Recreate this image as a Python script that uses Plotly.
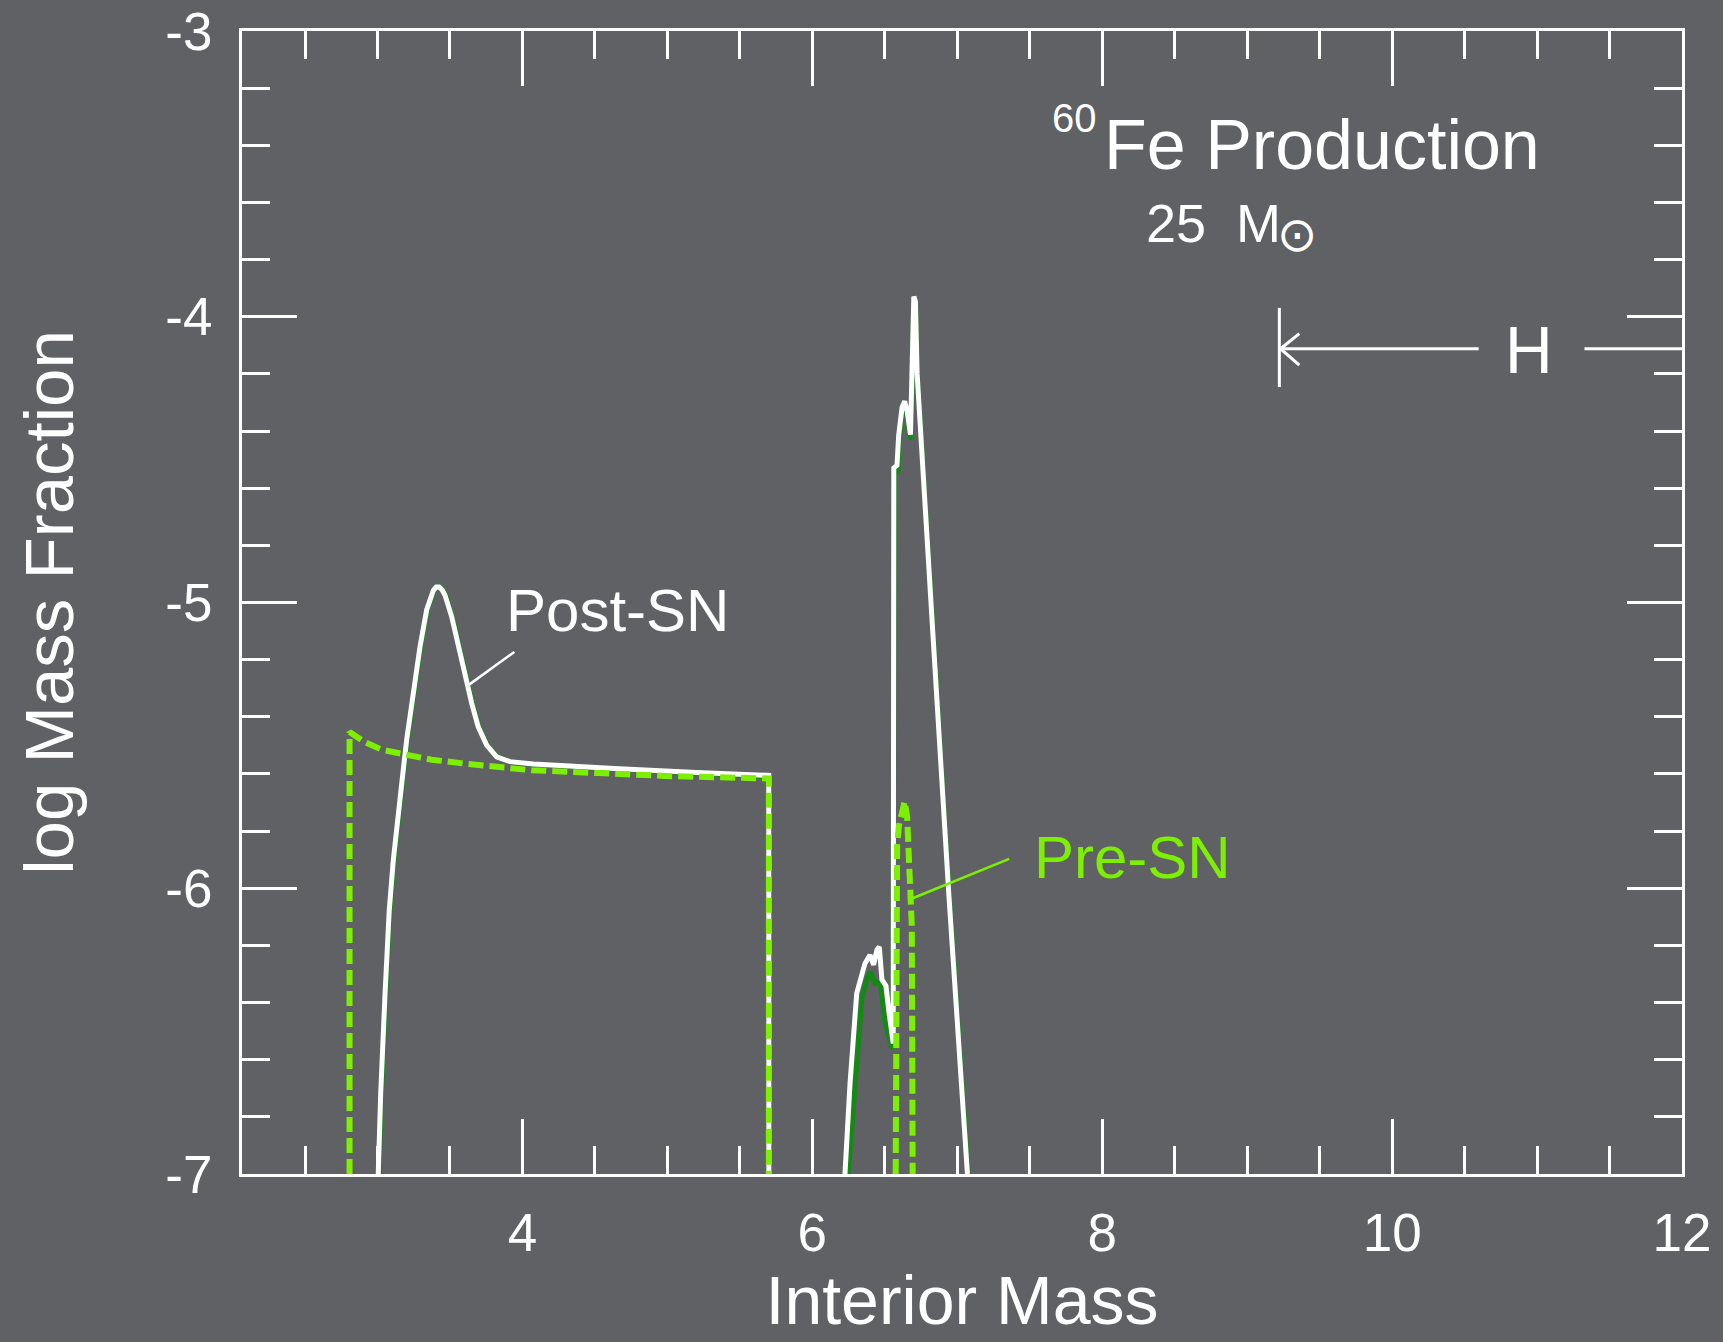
import plotly.graph_objects as go

# ---- data ----
post_sn_x = [3.005, 3.022, 3.052, 3.081, 3.109, 3.143, 3.17, 3.201, 3.247, 3.293, 3.339, 3.362, 3.385, 3.405, 3.425,
             3.445, 3.466, 3.512, 3.557, 3.603, 3.65, 3.695, 3.753, 3.822, 3.914, 4.075, 4.259, 4.6, 5.2, 5.699, 5.70, None,
             6.225, 6.26, 6.306, 6.34, 6.363, 6.398, 6.423, 6.446, 6.462, 6.48, 6.508, 6.527, 6.545, 6.558,
             6.562, 6.584, 6.596, 6.619, 6.637, 6.654, 6.677, 6.688, 6.70, 6.711, 6.723, 6.827, 6.942, 7.07]
post_sn_y = [-7, -6.717, -6.368, -6.076, -5.901, -5.726, -5.62, -5.481, -5.318, -5.155, -5.026, -4.985, -4.958, -4.946,
             -4.946, -4.955, -4.975, -5.05, -5.155, -5.26, -5.353, -5.435, -5.499, -5.54, -5.557, -5.565, -5.569, -5.58,
             -5.595, -5.605, -7, None,
             -7, -6.683, -6.368, -6.298, -6.263, -6.234, -6.268, -6.215, -6.205, -6.32, -6.342, -6.427, -6.49, -6.543,
             -4.529, -4.52, -4.413, -4.317, -4.296, -4.33, -4.413, -4.18, -3.929, -3.946, -4.2, -5.07, -6.024, -7]

alt_x = [3.01, 3.027, 3.057, 3.086, 3.114, 3.148, 3.175, 3.206, 3.252, 3.298, 3.344, 3.367, 3.39, 3.41, 3.43,
         3.45, 3.471, 3.517, 3.562, 3.608, 3.655, 3.70, 3.758, 3.827, 3.919, 4.075, 4.259, 4.6, 5.2, 5.699, 5.70, None,
         6.248, 6.30, 6.34, 6.351, 6.37, 6.398, 6.432, 6.467, 6.501, 6.547, 6.556,
         6.565, 6.59, 6.60, 6.62, 6.64, 6.656, 6.68, 6.69, 6.70, 6.712, 6.725, 6.83, 6.945, 7.075]
alt_y = [-7, -6.717, -6.368, -6.076, -5.901, -5.726, -5.62, -5.481, -5.318, -5.155, -5.026, -4.985, -4.958, -4.946,
         -4.946, -4.955, -4.975, -5.05, -5.155, -5.26, -5.353, -5.435, -5.499, -5.54, -5.557, -5.567, -5.572, -5.583,
         -5.598, -5.61, -7, None,
         -7, -6.62, -6.39, -6.368, -6.33, -6.292, -6.333, -6.327, -6.467, -6.554, -6.56,
         -4.55, -4.54, -4.44, -4.33, -4.31, -4.35, -4.43, -4.2, -3.94, -3.96, -4.21, -5.075, -6.03, -7]

pre_sn_x = [2.807, 2.807, 2.914, 3.029, 3.19, 3.374, 3.603, 3.833, 4.063, 4.523, 4.983, 5.70, 5.70, None,
            6.575, 6.577, 6.585, 6.598, 6.619, 6.637, 6.654, 6.668, 6.686, 6.692]
pre_sn_y = [-7, -5.453, -5.489, -5.515, -5.532, -5.55, -5.564, -5.576, -5.587, -5.597, -5.607, -5.616, -7, None,
            -7, -6.0, -5.85, -5.78, -5.73, -5.696, -5.75, -5.92, -6.13, -7]

x_tickvals = [4, 6, 8, 10, 12]
x_ticktext = ["4", "6", "8", "10", "12"]
x_minorvals = [2.5, 3, 3.5, 4.5, 5, 5.5, 6.5, 7, 7.5, 8.5, 9, 9.5, 10.5, 11, 11.5]
y_tickvals = [-7, -6, -5, -4, -3]
y_ticktext = ["-7", "-6", "-5", "-4", "-3"]
y_minorvals = [-6.8, -6.6, -6.4, -6.2, -5.8, -5.6, -5.4, -5.2, -4.8, -4.6, -4.4, -4.2, -3.8, -3.6, -3.4, -3.2]

# ---- style ----
BG = "#5f6165"
WHITE = "#ffffff"
GREEN = "#7cf000"
DKGREEN = "#138a13"
FONT = "Liberation Sans, Arial, Helvetica, sans-serif"

fig = go.Figure()
fig.add_trace(go.Scatter(x=alt_x, y=alt_y, mode="lines", line=dict(color=DKGREEN, width=5),
                         showlegend=False, hoverinfo="skip"))
fig.add_trace(go.Scatter(x=post_sn_x, y=post_sn_y, mode="lines", name="Post-SN",
                         line=dict(color=WHITE, width=5), showlegend=False))
fig.add_trace(go.Scatter(x=pre_sn_x, y=pre_sn_y, mode="lines", name="Pre-SN",
                         line=dict(color=GREEN, width=6, dash="15px,6px"), showlegend=False))

axis_common = dict(
    showline=True, linecolor=WHITE, linewidth=3, mirror="ticks",
    ticks="inside", ticklen=55, tickwidth=2.5, tickcolor=WHITE,
    showgrid=False, zeroline=False, automargin=False,
    tickfont=dict(family=FONT, size=53, color=WHITE),
)

fig.update_xaxes(
    **axis_common, range=[2.065, 12], tickmode="array", tickvals=x_tickvals, ticktext=x_ticktext,
    minor=dict(tickmode="array", tickvals=x_minorvals, ticks="inside", ticklen=28, tickwidth=2.5,
               tickcolor=WHITE, showgrid=False),
    ticklabelstandoff=10,
    title=dict(text="Interior Mass", font=dict(family=FONT, size=68, color=WHITE), standoff=16),
)
fig.update_yaxes(
    **axis_common, range=[-7, -3], tickmode="array", tickvals=y_tickvals, ticktext=y_ticktext,
    minor=dict(tickmode="array", tickvals=y_minorvals, ticks="inside", ticklen=28, tickwidth=2.5,
               tickcolor=WHITE, showgrid=False),
    ticklabelstandoff=16,
    title=dict(text="log Mass Fraction", font=dict(family=FONT, size=69, color=WHITE), standoff=70),
)

# decorations: labels, leaders, H-envelope marker
fig.add_annotation(x=4.653, y=-5.027, xref="x", yref="y", text="Post-SN", showarrow=False,
                   font=dict(family=FONT, size=60, color=WHITE))
fig.add_annotation(x=8.21, y=-5.892, xref="x", yref="y", text="Pre-SN", showarrow=False,
                   font=dict(family=FONT, size=60, color=GREEN))
fig.add_annotation(x=7.975, y=-3.306, xref="x", yref="y", text="60", showarrow=False,
                   xanchor="right", font=dict(family=FONT, size=40, color=WHITE))
fig.add_annotation(x=8.0, y=-3.398, xref="x", yref="y", text="Fe Production", showarrow=False,
                   xanchor="left", font=dict(family=FONT, size=70, color=WHITE))
fig.add_annotation(x=8.29, y=-3.671, xref="x", yref="y", text="25&nbsp;&nbsp;M", showarrow=False,
                   xanchor="left", font=dict(family=FONT, size=54, color=WHITE))
fig.add_annotation(x=9.343, y=-3.712, xref="x", yref="y", text="⊙", showarrow=False,
                   font=dict(family="DejaVu Sans", size=48, color=WHITE))
fig.add_annotation(x=10.946, y=-4.115, xref="x", yref="y", text="H", showarrow=False,
                   font=dict(family=FONT, size=66, color=WHITE))

line_w = dict(color=WHITE, width=3)
fig.add_shape(type="line", xref="x", yref="y", x0=3.944, y0=-5.173, x1=3.625, y1=-5.29, line=dict(color=WHITE, width=2.5))
fig.add_shape(type="line", xref="x", yref="y", x0=7.358, y0=-5.897, x1=6.692, y1=-6.035, line=dict(color=GREEN, width=2.5))
fig.add_shape(type="line", xref="x", yref="y", x0=9.222, y0=-3.969, x1=9.222, y1=-4.246, line=line_w)
fig.add_shape(type="line", xref="x", yref="y", x0=9.23, y0=-4.112, x1=10.597, y1=-4.112, line=line_w)
fig.add_shape(type="line", xref="x", yref="y", x0=9.23, y0=-4.112, x1=9.36, y1=-4.059, line=line_w)
fig.add_shape(type="line", xref="x", yref="y", x0=9.23, y0=-4.112, x1=9.36, y1=-4.169, line=line_w)
fig.add_shape(type="line", xref="x", yref="y", x0=11.327, y0=-4.112, x1=12.0, y1=-4.112, line=line_w)

fig.update_layout(
    width=1723, height=1342,
    margin=dict(l=242, r=41, t=31, b=168),
    paper_bgcolor=BG, plot_bgcolor=BG,
    font=dict(family=FONT, color=WHITE),
    showlegend=False,
)

fig.write_html("out.html", config={"displayModeBar": False},
               post_script="document.body.style.margin='0';document.body.style.overflow='hidden';"
                           "document.body.style.background='%s';" % BG)
